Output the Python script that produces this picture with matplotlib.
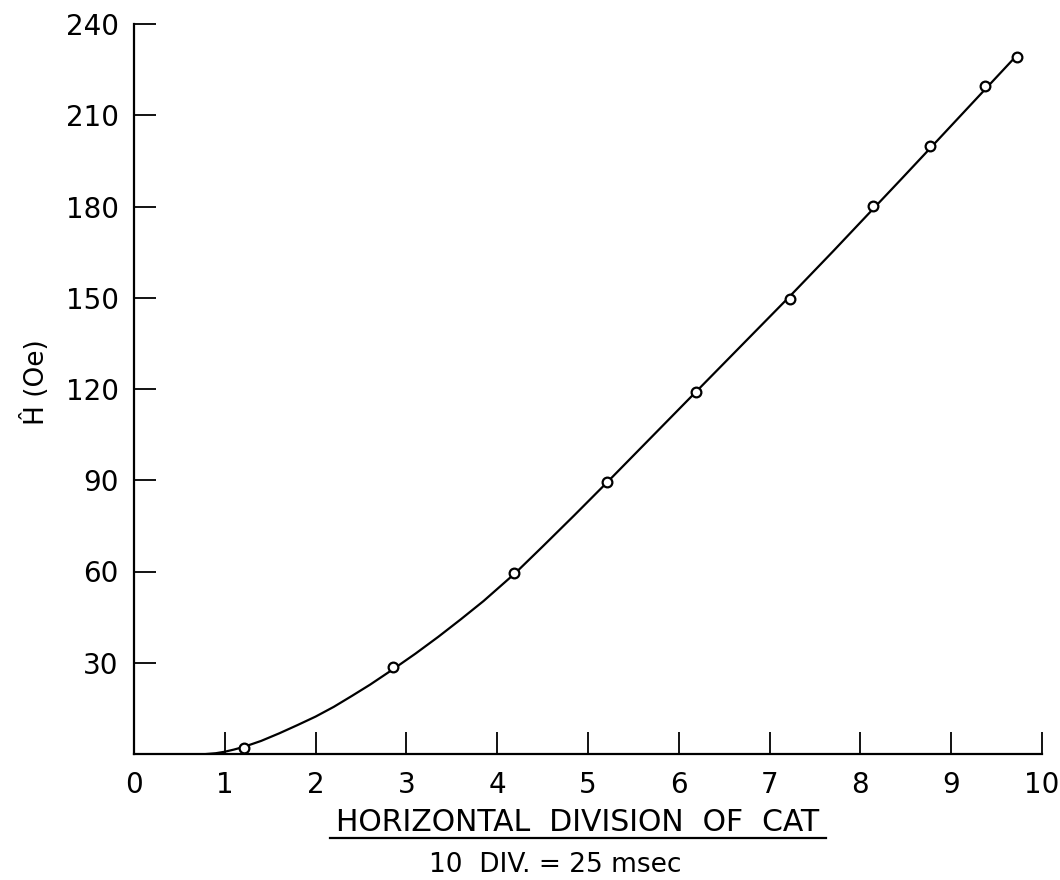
import matplotlib.pyplot as plt
from matplotlib.lines import Line2D

# measured points (open circles)
pt_x = [1.21, 2.85, 4.18, 5.21, 6.19, 7.22, 8.14, 8.77, 9.37, 9.72]
pt_y = [2, 28.6, 59.5, 89.5, 119, 149.7, 180.3, 200, 219.7, 229]

# hand-drawn curve
curve_x = [0.8, 0.9, 1.0, 1.1, 1.21, 1.4, 1.6, 1.8, 2.0, 2.2, 2.4, 2.6, 2.85,
           3.1, 3.35, 3.6, 3.85, 4.2, 4.5, 4.85, 5.21, 5.7, 6.19, 6.7, 7.22,
           7.7, 8.14, 8.45, 8.77, 9.07, 9.37, 9.72]
curve_y = [0, 0.25, 0.75, 1.45, 2.35, 4.3, 6.8, 9.5, 12.3, 15.5, 19.1, 22.8, 27.8,
           33, 38.5, 44.3, 50.3, 59.5, 68.2, 78.5, 89.3, 104.2, 119.1, 134.6, 150.4,
           165.3, 179.2, 189, 199.2, 208.8, 218.4, 229.6]

x_ticks = list(range(0, 11))
y_ticks = list(range(30, 241, 30))

fig = plt.figure(figsize=(10.6, 8.8), dpi=100)
ax = fig.add_axes([134 / 1060, 126 / 880, 908 / 1060, 730 / 880])

ax.plot(curve_x, curve_y, color='black', linewidth=1.6, zorder=2)
ax.plot(pt_x, pt_y, linestyle='none', marker='o', markersize=7,
        markerfacecolor='white', markeredgecolor='black', markeredgewidth=1.6, zorder=3)

ax.set_xlim(0, 10)
ax.set_ylim(0, 240)
ax.spines['top'].set_visible(False)
ax.spines['right'].set_visible(False)
for s in ['left', 'bottom']:
    ax.spines[s].set_linewidth(1.6)

ax.set_xticks(x_ticks)
ax.set_yticks(y_ticks)
ax.tick_params(direction='in', length=15.5, width=1.3, labelsize=20, pad=11)
ax.tick_params(axis='x', pad=12)
ax.xaxis.get_major_ticks()[0].tick1line.set_visible(False)

ax.set_ylabel('Ĥ (Oe)', fontsize=19)
ax.yaxis.set_label_coords(-0.093, 0.51)

# x label with the underline and the time scale beneath it
fig.text(578 / 1060, 1 - 822 / 880, 'HORIZONTAL  DIVISION  OF  CAT', fontsize=21.5,
         ha='center', va='center')
fig.add_artist(Line2D([330 / 1060, 826 / 1060], [1 - 838 / 880, 1 - 838 / 880],
                      color='black', linewidth=1.6, transform=fig.transFigure))
fig.text(555 / 1060, 1 - 865 / 880, '10  DIV. = 25 msec', fontsize=19,
         ha='center', va='center')

plt.savefig('out.png', dpi=100)
plt.close()
